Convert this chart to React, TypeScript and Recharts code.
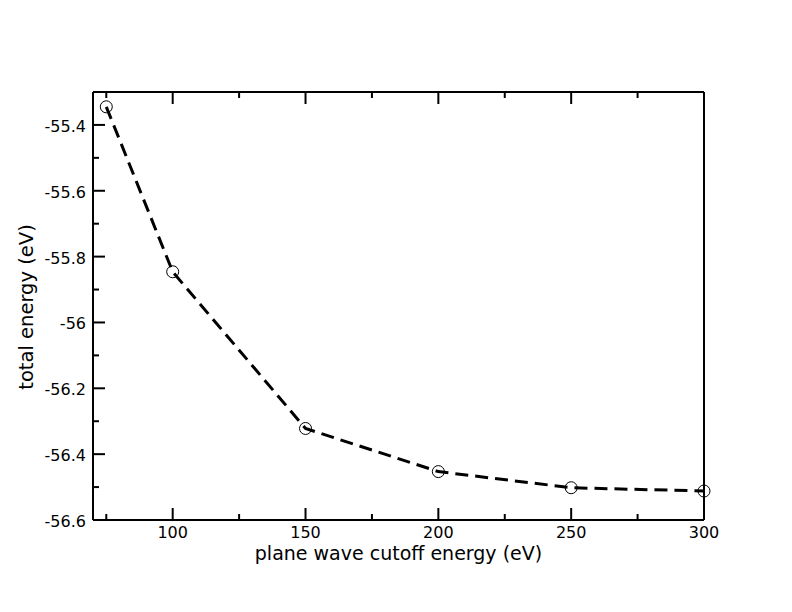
import React from 'react';
import { LineChart, Line, XAxis, YAxis } from 'recharts';

const cutoff = [75, 100, 150, 200, 250, 300];
const energy = [-55.345, -55.846, -56.322, -56.453, -56.502, -56.512];
const xTicks = [75, 100, 125, 150, 175, 200, 225, 250, 275, 300];
const xMajor = [100, 150, 200, 250, 300];
const yTicks = [-56.6, -56.5, -56.4, -56.3, -56.2, -56.1, -56.0, -55.9, -55.8, -55.7, -55.6, -55.5, -55.4];
const yMajor = [-56.6, -56.4, -56.2, -56.0, -55.8, -55.6, -55.4];

const data = cutoff.map((c, i) => ({ cutoff: c, energy: energy[i] }));

const FONT = '"DejaVu Sans", "Liberation Sans", Arial, sans-serif';

const isMajor = (list: number[], v: number) => list.some((m) => Math.abs(m - v) < 1e-6);

const fmtY = (v: number) => {
  const r = Math.round(v * 10) / 10;
  return Number.isInteger(r) ? String(r) : r.toFixed(1);
};

const makeTick = (side: 'bottom' | 'top' | 'left' | 'right') => (props: any) => {
  const { x, y, payload } = props;
  const v = payload.value;
  const major = side === 'bottom' || side === 'top' ? isMajor(xMajor, v) : isMajor(yMajor, v);
  const len = major ? 12 : 6;
  let line;
  if (side === 'bottom') line = <line x1={x} y1={y} x2={x} y2={y - len} stroke="#000" strokeWidth={2} />;
  else if (side === 'top') line = <line x1={x} y1={y} x2={x} y2={y + len} stroke="#000" strokeWidth={2} />;
  else if (side === 'left') line = <line x1={x} y1={y} x2={x + len} y2={y} stroke="#000" strokeWidth={2} />;
  else line = <line x1={x} y1={y} x2={x - len} y2={y} stroke="#000" strokeWidth={2} />;
  let label = null;
  if (major && side === 'bottom') {
    label = (
      <text x={x} y={y + 18} textAnchor="middle" fontFamily={FONT} fontSize={16} fill="#000">
        {String(v)}
      </text>
    );
  } else if (major && side === 'left') {
    label = (
      <text x={x - 7} y={y + 7} textAnchor="end" fontFamily={FONT} fontSize={16} fill="#000">
        {fmtY(v)}
      </text>
    );
  }
  return (
    <g>
      {line}
      {label}
    </g>
  );
};

const XTitle = (props: any) => {
  const vb = props.viewBox || {};
  return (
    <text x={vb.x + vb.width / 2} y={vb.y + 40} textAnchor="middle" fontFamily={FONT} fontSize={19} fill="#000">
      plane wave cutoff energy (eV)
    </text>
  );
};

const YTitle = (props: any) => {
  const vb = props.viewBox || {};
  const cx = 33;
  const cy = vb.y + vb.height / 2 + 1;
  return (
    <text x={cx} y={cy} textAnchor="middle" fontFamily={FONT} fontSize={19.5} fill="#000" transform={`rotate(-90, ${cx}, ${cy})`}>
      total energy (eV)
    </text>
  );
};

const Dot = (props: any) => {
  const { cx, cy, index } = props;
  if (cx == null || cy == null) return <g key={index} />;
  return <circle key={index} cx={cx} cy={cy} r={6} fill="none" stroke="#000" strokeWidth={1} />;
};

export default function App() {
  return (
    <div style={{ position: 'absolute', left: 0, top: 0, background: '#fff' }}>
      <LineChart width={792} height={612} data={data} margin={{ top: 82, right: 78, bottom: 52, left: 0 }}>
        <XAxis
          xAxisId="b"
          dataKey="cutoff"
          type="number"
          domain={[70, 300]}
          ticks={xTicks}
          orientation="bottom"
          height={40}
          tickSize={0}
          tickMargin={0}
          tickLine={false}
          axisLine={{ stroke: '#000', strokeWidth: 2 }}
          tick={makeTick('bottom')}
          interval={0}
          label={<XTitle />}
        />
        <XAxis
          xAxisId="t"
          dataKey="cutoff"
          type="number"
          domain={[70, 300]}
          ticks={xTicks}
          orientation="top"
          height={10}
          tickSize={0}
          tickMargin={0}
          tickLine={false}
          axisLine={{ stroke: '#000', strokeWidth: 2 }}
          tick={makeTick('top')}
          interval={0}
        />
        <YAxis
          yAxisId="l"
          type="number"
          domain={[-56.6, -55.3]}
          ticks={yTicks}
          orientation="left"
          width={93}
          tickSize={0}
          tickMargin={0}
          tickLine={false}
          axisLine={{ stroke: '#000', strokeWidth: 2 }}
          tick={makeTick('left')}
          interval={0}
          label={<YTitle />}
        />
        <YAxis
          yAxisId="r"
          type="number"
          domain={[-56.6, -55.3]}
          ticks={yTicks}
          orientation="right"
          width={10}
          tickSize={0}
          tickMargin={0}
          tickLine={false}
          axisLine={{ stroke: '#000', strokeWidth: 2 }}
          tick={makeTick('right')}
          interval={0}
        />
        <Line
          xAxisId="b"
          yAxisId="l"
          dataKey="energy"
          type="linear"
          stroke="#000"
          strokeWidth={3}
          strokeDasharray="13 7"
          dot={Dot}
          activeDot={false}
          isAnimationActive={false}
        />
      </LineChart>
    </div>
  );
}
